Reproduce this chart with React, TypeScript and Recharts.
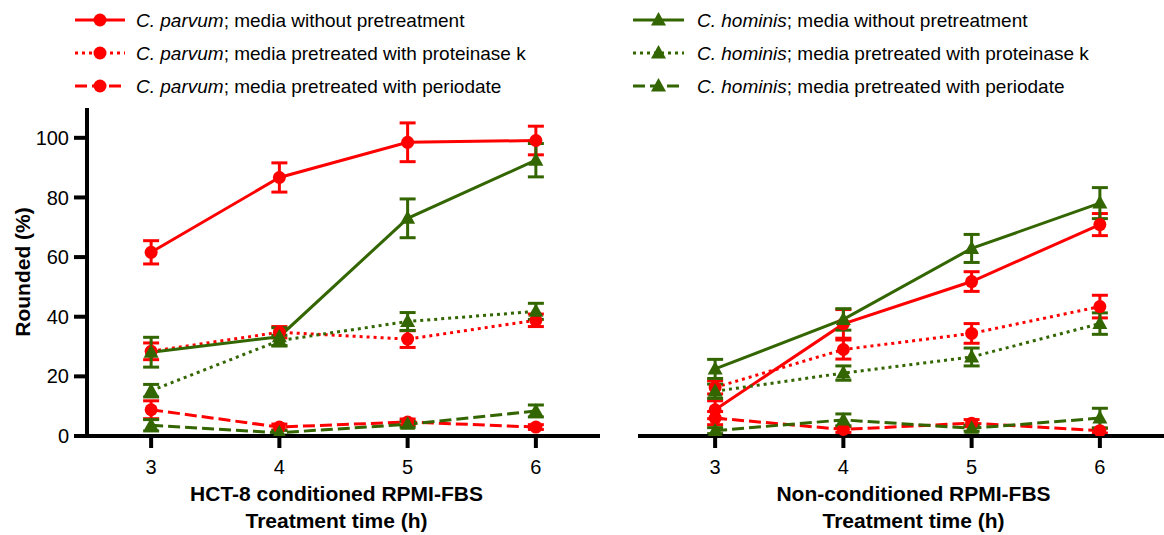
import React from 'react';
import { LineChart, Line, XAxis, YAxis, ErrorBar, Label } from 'recharts';

const RED = '#FF0000';
const GREEN = '#336600';
const FONT = 'Arial, "Liberation Sans", Helvetica, sans-serif';

// Treatment times (h)
const times = [3, 4, 5, 6];
const yTicks = [0, 20, 40, 60, 80, 100];

// HCT-8 conditioned RPMI-FBS
const hctParvumNone = [61.6, 86.7, 98.5, 99.1];
const hctParvumNoneErr = [3.9, 4.9, 6.5, 4.8];
const hctParvumProt = [28.4, 34.8, 32.5, 38.8];
const hctParvumProtErr = [2.8, 1.9, 2.8, 2.1];
const hctParvumPer = [8.8, 3.0, 4.7, 3.0];
const hctParvumPerErr = [3.0, 1.0, 1.0, 0.8];
const hctHominisNone = [28.1, 33.3, 73.0, 92.5];
const hctHominisNoneErr = [5.0, 3.0, 6.5, 5.6];
const hctHominisProt = [15.2, 32.0, 38.4, 41.8];
const hctHominisProtErr = [2.1, 1.8, 3.0, 2.7];
const hctHominisPer = [3.6, 1.1, 3.9, 8.4];
const hctHominisPerErr = [1.9, 0.8, 1.0, 2.0];

// Non-conditioned RPMI-FBS
const nonParvumNone = [8.8, 37.6, 51.8, 70.9];
const nonParvumNoneErr = [3.0, 4.8, 3.3, 3.7];
const nonParvumProt = [16.3, 29.0, 34.4, 43.4];
const nonParvumProtErr = [2.2, 3.2, 3.3, 3.8];
const nonParvumPer = [6.0, 2.2, 4.3, 1.8];
const nonParvumPerErr = [2.2, 1.0, 1.2, 0.8];
const nonHominisNone = [22.5, 39.1, 62.9, 78.1];
const nonHominisNoneErr = [3.2, 3.6, 4.7, 5.2];
const nonHominisProt = [15.0, 21.1, 26.5, 37.7];
const nonHominisProtErr = [2.4, 2.4, 3.0, 3.6];
const nonHominisPer = [1.8, 5.4, 2.6, 6.0];
const nonHominisPerErr = [1.0, 2.0, 1.0, 3.3];

type Shape = 'circle' | 'triangle';
interface SeriesStyle {
  key: string;
  color: string;
  dash?: string;
  shape: Shape;
  species: string;
  text: string;
}

const DOTTED = '3 4';
const DASHED = '12 5';

const seriesStyles: SeriesStyle[] = [
  { key: 'pNone', color: RED, shape: 'circle', species: 'C. parvum', text: '; media without pretreatment' },
  { key: 'pProt', color: RED, dash: DOTTED, shape: 'circle', species: 'C. parvum', text: '; media pretreated with proteinase k' },
  { key: 'pPer', color: RED, dash: DASHED, shape: 'circle', species: 'C. parvum', text: '; media pretreated with periodate' },
  { key: 'hNone', color: GREEN, shape: 'triangle', species: 'C. hominis', text: '; media without pretreatment' },
  { key: 'hProt', color: GREEN, dash: DOTTED, shape: 'triangle', species: 'C. hominis', text: '; media pretreated with proteinase k' },
  { key: 'hPer', color: GREEN, dash: DASHED, shape: 'triangle', species: 'C. hominis', text: '; media pretreated with periodate' },
];

function buildRows(series: Record<string, [number[], number[]]>) {
  return times.map((t, i) => {
    const row: Record<string, any> = { t };
    Object.keys(series).forEach((k) => {
      row[k] = series[k][0][i];
      row[k + 'Err'] = series[k][1][i];
    });
    return row;
  });
}

const leftRows = buildRows({
  pNone: [hctParvumNone, hctParvumNoneErr],
  pProt: [hctParvumProt, hctParvumProtErr],
  pPer: [hctParvumPer, hctParvumPerErr],
  hNone: [hctHominisNone, hctHominisNoneErr],
  hProt: [hctHominisProt, hctHominisProtErr],
  hPer: [hctHominisPer, hctHominisPerErr],
});

const rightRows = buildRows({
  pNone: [nonParvumNone, nonParvumNoneErr],
  pProt: [nonParvumProt, nonParvumProtErr],
  pPer: [nonParvumPer, nonParvumPerErr],
  hNone: [nonHominisNone, nonHominisNoneErr],
  hProt: [nonHominisProt, nonHominisProtErr],
  hPer: [nonHominisPer, nonHominisPerErr],
});

function Marker({ cx, cy, color, shape }: { cx: number; cy: number; color: string; shape: Shape }) {
  if (shape === 'circle') return <circle cx={cx} cy={cy} r={6.5} fill={color} />;
  return <path d={`M${cx},${cy - 8} L${cx + 7.5},${cy + 5.5} L${cx - 7.5},${cy + 5.5} Z`} fill={color} />;
}

const makeDot = (color: string, shape: Shape) => (props: any) => {
  const { cx, cy, index } = props;
  if (cx == null || cy == null) return <g key={`d-${index}`} />;
  return (
    <g key={`d-${index}`}>
      <Marker cx={cx} cy={cy} color={color} shape={shape} />
    </g>
  );
};

const xTitle = (line1: string, dx: number) => (props: any) => {
  const vb = props.viewBox || {};
  const cx = vb.x + vb.width / 2 + dx;
  return (
    <g>
      <text x={cx} y={vb.y + 65} textAnchor="middle" fontWeight="bold" fontSize={21} fontFamily={FONT} fill="#000">
        {line1}
      </text>
      <text x={cx} y={vb.y + 92} textAnchor="middle" fontWeight="bold" fontSize={21} fontFamily={FONT} fill="#000">
        Treatment time (h)
      </text>
    </g>
  );
};

const yTitle = (props: any) => {
  const vb = props.viewBox || {};
  const cy = vb.y + vb.height / 2;
  return (
    <text
      transform={`translate(${30},${cy}) rotate(-90)`}
      textAnchor="middle"
      fontWeight="bold"
      fontSize={21}
      fontFamily={FONT}
      fill="#000"
    >
      Rounded (%)
    </text>
  );
};

const renderLines = () =>
  seriesStyles.map((s) => (
    <Line
      key={s.key}
      type="linear"
      dataKey={s.key}
      stroke={s.color}
      strokeWidth={3}
      strokeDasharray={s.dash}
      dot={makeDot(s.color, s.shape)}
      activeDot={false}
      isAnimationActive={false}
    >
      <ErrorBar dataKey={s.key + 'Err'} width={8} strokeWidth={3} stroke={s.color} direction="y" />
    </Line>
  ));

const axisStroke = { stroke: '#000', strokeWidth: 4 };
const tickStyle = { fill: '#000', fontSize: 20, fontFamily: FONT };

function Legend() {
  const rows = [20, 53, 86];
  const cols = [
    { x1: 75, x2: 125, tx: 136 },
    { x1: 633, x2: 684, tx: 697 },
  ];
  return (
    <svg width={1164} height={100} style={{ position: 'absolute', left: 0, top: 0 }}>
      {seriesStyles.map((s, i) => {
        const col = cols[Math.floor(i / 3)];
        const y = rows[i % 3];
        const mid = (col.x1 + col.x2) / 2;
        return (
          <g key={s.key}>
            <line x1={col.x1} x2={col.x2} y1={y} y2={y} stroke={s.color} strokeWidth={3} strokeDasharray={s.dash} />
            <Marker cx={mid} cy={y} color={s.color} shape={s.shape} />
            <text x={col.tx} y={y + 7} fontSize={19} fontFamily={FONT} fill="#000">
              <tspan fontStyle="italic">{s.species}</tspan>
              <tspan>{s.text}</tspan>
            </text>
          </g>
        );
      })}
    </svg>
  );
}

export default function App() {
  return (
    <div style={{ position: 'absolute', left: 0, top: 0, width: 1164, height: 535, background: '#fff', overflow: 'hidden' }}>
      <Legend />
      <div style={{ position: 'absolute', left: 0, top: 100 }}>
        <LineChart width={600} height={435} data={leftRows} margin={{ top: 8, right: 0, bottom: 0, left: 0 }}>
          <XAxis
            type="number"
            dataKey="t"
            domain={[2.5, 6.5]}
            ticks={times}
            allowDataOverflow
            axisLine={axisStroke}
            tickLine={axisStroke}
            tickSize={12}
            tickMargin={12}
            tick={tickStyle}
            height={99}
          >
            <Label content={xTitle('HCT-8 conditioned RPMI-FBS', -7)} />
          </XAxis>
          <YAxis
            type="number"
            domain={[0, 110]}
            ticks={yTicks}
            allowDataOverflow
            width={87}
            axisLine={axisStroke}
            tickLine={axisStroke}
            tickSize={13}
            tickMargin={5}
            tick={tickStyle}
          >
            <Label content={yTitle} />
          </YAxis>
          {renderLines()}
        </LineChart>
      </div>
      <div style={{ position: 'absolute', left: 620, top: 100 }}>
        <LineChart width={544} height={435} data={rightRows} margin={{ top: 8, right: 0, bottom: 0, left: 0 }}>
          <XAxis
            type="number"
            dataKey="t"
            domain={[2.5, 6.5]}
            ticks={times}
            allowDataOverflow
            axisLine={axisStroke}
            tickLine={axisStroke}
            tickSize={12}
            tickMargin={12}
            tick={tickStyle}
            height={99}
          >
            <Label content={xTitle('Non-conditioned RPMI-FBS', 6)} />
          </XAxis>
          <YAxis
            type="number"
            domain={[0, 110]}
            ticks={[0]}
            allowDataOverflow
            width={31}
            axisLine={false}
            tickLine={axisStroke}
            tickSize={13}
            tickFormatter={() => ''}
            tick={tickStyle}
          />
          {renderLines()}
        </LineChart>
      </div>
    </div>
  );
}
